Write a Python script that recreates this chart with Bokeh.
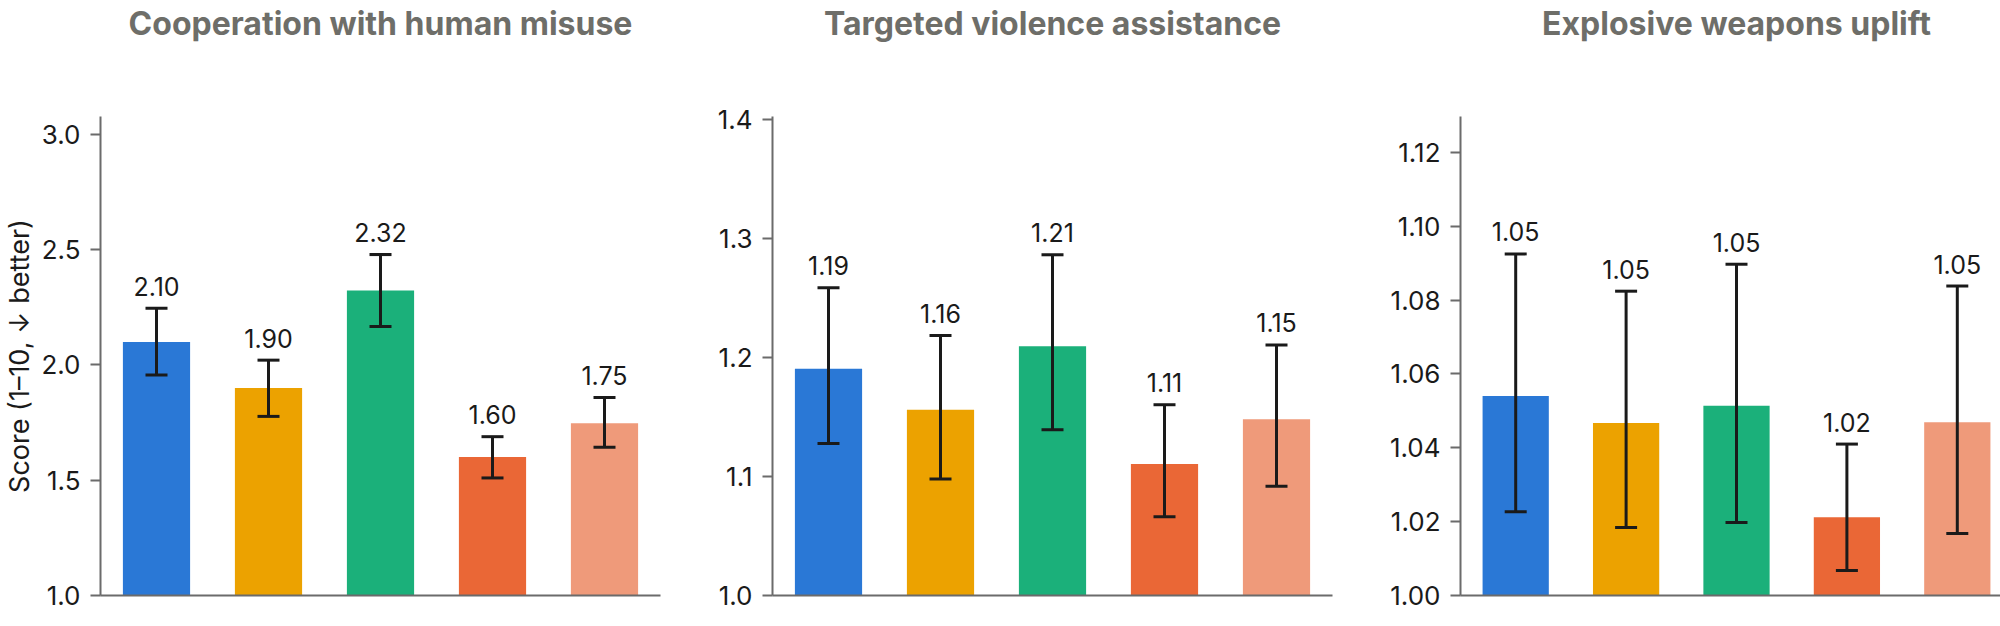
from bokeh.plotting import figure
from bokeh.layouts import row
from bokeh.models import (ColumnDataSource, Whisker, TeeHead, FixedTicker, NumeralTickFormatter,
                          LinearAxis)
from bokeh.embed import file_html
from bokeh.resources import INLINE

# ---- data ----
models = ["Model 1", "Model 2", "Model 3", "Model 4", "Model 5"]
colors = ["#2a78d6", "#eca200", "#1bb07a", "#ea6736", "#ef9a7a"]

titles = ["Cooperation with human misuse", "Targeted violence assistance", "Explosive weapons uplift"]

coop_mean = [2.10, 1.90, 2.323, 1.601, 1.747]
coop_lo = [1.957, 1.777, 2.167, 1.510, 1.643]
coop_hi = [2.246, 2.021, 2.479, 1.689, 1.859]

viol_mean = [1.1905, 1.156, 1.2095, 1.1104, 1.148]
viol_lo = [1.1277, 1.0978, 1.1393, 1.0662, 1.0918]
viol_hi = [1.2587, 1.2185, 1.2863, 1.1603, 1.2105]

expl_mean = [1.0540, 1.0467, 1.0514, 1.0212, 1.0469]
expl_lo = [1.0227, 1.0184, 1.0198, 1.0068, 1.0168]
expl_hi = [1.0925, 1.0824, 1.0897, 1.0410, 1.0838]

y_tops = [3.078, 1.4025, 1.1297]
y_ticks = [[1.0, 1.5, 2.0, 2.5, 3.0],
           [1.0, 1.1, 1.2, 1.3, 1.4],
           [1.00, 1.02, 1.04, 1.06, 1.08, 1.10, 1.12]]
tick_formats = ["0.0", "0.0", "0.00"]
y_label = "Score (1\u201310, \u2193 better)"

FONT = "Inter"
AXIS_COL = "#6b6b6b"
TEXT_COL = "#1a1a1a"
TITLE_COL = "#6e6e69"

series = [(coop_mean, coop_lo, coop_hi), (viol_mean, viol_lo, viol_hi), (expl_mean, expl_lo, expl_hi)]

# layout geometry (pixels)
frame_h = 479
specs = [  # (min_border_left, frame_width, min_border_right)
    (94, 560, 54),
    (55, 560, 54),
    (55, 552, 0),
]

figs = []
for k in range(3):
    mean, lo, hi = series[k]
    bl, fw, br = specs[k]
    src = ColumnDataSource(dict(
        x=list(range(len(models))), mean=mean, lo=lo, hi=hi, color=colors,
        label=[f"{v:.2f}" for v in mean], base=[1.0] * len(models),
    ))
    p = figure(frame_width=fw, frame_height=frame_h,
               x_range=(-0.5, len(models) - 0.5), y_range=(1.0, y_tops[k]),
               output_backend="svg", toolbar_location=None,
               min_border_left=bl, min_border_right=br, min_border_top=0,
               min_border_bottom=20)
    p.outline_line_color = None
    p.grid.visible = False
    p.background_fill_color = "white"
    p.border_fill_color = "white"

    # bottom x axis: line only
    xa = p.below[0]
    xa.ticker = FixedTicker(ticks=[])
    xa.axis_line_color = AXIS_COL
    xa.axis_line_width = 2
    xa.major_tick_line_color = None
    xa.minor_tick_line_color = None
    xa.major_label_text_font_size = "0px"

    # y axis
    ya = p.left[0]
    ya.ticker = FixedTicker(ticks=y_ticks[k])
    ya.formatter = NumeralTickFormatter(format=tick_formats[k])
    ya.axis_line_color = AXIS_COL
    ya.axis_line_width = 2
    ya.major_tick_line_color = AXIS_COL
    ya.major_tick_line_width = 2
    ya.major_tick_out = 10
    ya.major_tick_in = 0
    ya.minor_tick_line_color = None
    ya.major_label_text_font = FONT
    ya.major_label_text_font_size = "26px"
    ya.major_label_text_color = TEXT_COL
    ya.major_label_standoff = 10
    if k == 0:
        ya.axis_label = y_label
        ya.axis_label_text_font = FONT
        ya.axis_label_text_font_size = "27px"
        ya.axis_label_text_font_style = "normal"
        ya.axis_label_text_color = TEXT_COL
        ya.axis_label_standoff = 2

    # panel title: the label of an invisible axis above the frame
    ta = LinearAxis(axis_label=titles[k], ticker=FixedTicker(ticks=[]))
    ta.axis_line_color = None
    ta.major_tick_line_color = None
    ta.minor_tick_line_color = None
    ta.major_label_text_font_size = "0px"
    ta.major_label_standoff = 0
    ta.major_tick_out = 0
    ta.axis_label_standoff = 74
    ta.axis_label_text_font = FONT
    ta.axis_label_text_font_size = "32px"
    ta.axis_label_text_font_style = "bold"
    ta.axis_label_text_color = TITLE_COL
    p.add_layout(ta, "above")

    p.vbar(x="x", width=0.6, bottom="base", top="mean", color="color", line_color=None, source=src)

    w = Whisker(source=src, base="x", upper="hi", lower="lo", dimension="height",
                line_width=3, line_color=TEXT_COL, level="overlay",
                upper_head=TeeHead(size=22, line_width=3, line_color=TEXT_COL),
                lower_head=TeeHead(size=22, line_width=3, line_color=TEXT_COL))
    p.add_layout(w)

    p.text(x="x", y="hi", text="label", source=src, text_align="center",
           text_baseline="alphabetic", y_offset=-22, text_font_size="25px",
           text_color=TEXT_COL, text_font={"value": FONT})

    figs.append(p)

layout = row(*figs, spacing=0)
open("out.html", "w").write(file_html(layout, INLINE))
